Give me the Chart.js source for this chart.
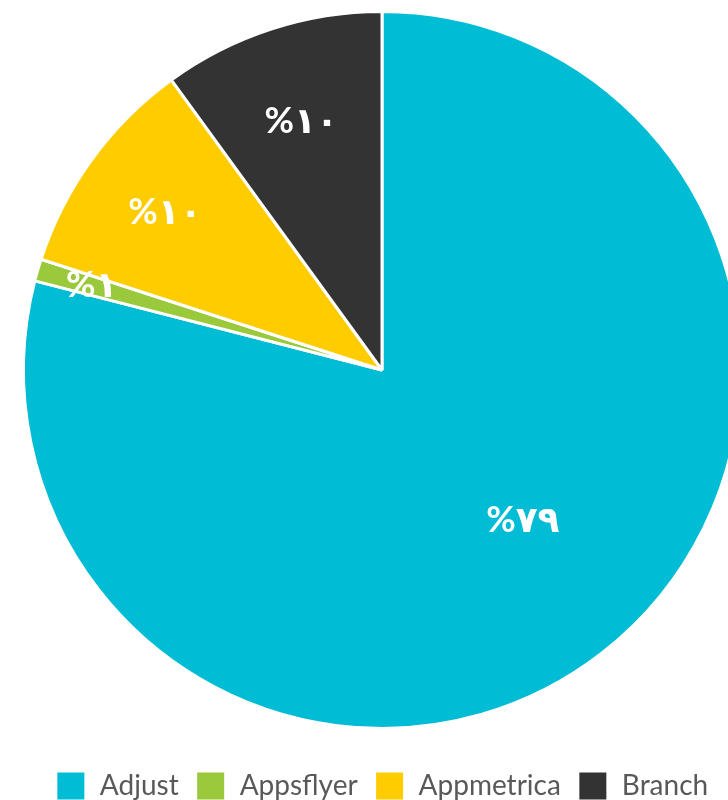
<!DOCTYPE html>
<html>
<head>
<meta charset="utf-8">
<script src="https://cdn.jsdelivr.net/npm/chart.js@4.4.1/dist/chart.umd.min.js"></script>
<style>
html,body{margin:0;padding:0;overflow:hidden;background:#ffffff;width:728px;height:800px}
canvas{display:block}
</style>
</head>
<body>
<canvas id="c" width="764" height="811"></canvas>
<script>
// ---- data ----
const categories = ['Adjust', 'Appsflyer', 'Appmetrica', 'Branch'];
const shares = [79, 1, 10, 10];

// ---- styles ----
const sliceColors = ['#00BCD4', '#9BC93C', '#FFCC00', '#333333'];
const labelPlacement = [
  {f: 0.574, turnDeg: -5.4},
  {f: 0.843, turnDeg: 0},
  {f: 0.748, turnDeg: 0},
  {f: 0.730, turnDeg: 0}
];

function toPersianDigits(n) {
  const d = ['۰','۱','۲','۳','۴','۵','۶','۷','۸','۹'];
  return String(n).replace(/[0-9]/g, c => d[+c]);
}

const sliceLabels = {
  id: 'sliceLabels',
  afterDatasetsDraw(chart) {
    const ctx = chart.ctx;
    const meta = chart.getDatasetMeta(0);
    const vals = chart.data.datasets[0].data;
    ctx.save();
    ctx.fillStyle = '#ffffff';
    ctx.font = 'bold 36px Lato, "DejaVu Sans", sans-serif';
    ctx.textAlign = 'center';
    ctx.textBaseline = 'middle';
    meta.data.forEach((arc, i) => {
      const p = arc.getProps(['x','y','startAngle','endAngle','outerRadius'], true);
      const pl = labelPlacement[i];
      const mid = (p.startAngle + p.endAngle) / 2 + pl.turnDeg * Math.PI / 180;
      const r = p.outerRadius * pl.f;
      const tx = p.x + Math.cos(mid) * r;
      const ty = p.y + Math.sin(mid) * r;
      // right-to-left percentage, shown with the sign on the left
      ctx.fillText('%' + toPersianDigits(vals[i]), tx, ty);
    });
    ctx.restore();
  }
};

new Chart(document.getElementById('c'), {
  type: 'pie',
  data: {
    labels: categories,
    datasets: [{
      data: shares,
      backgroundColor: sliceColors,
      borderColor: '#ffffff',
      borderWidth: 3
    }]
  },
  options: {
    responsive: false,
    animation: false,
    devicePixelRatio: 1,
    layout: {padding: {top: 10, left: 0, right: 0, bottom: 0}},
    plugins: {
      tooltip: {enabled: false},
      legend: {
        position: 'bottom',
        align: 'center',
        title: {display: true, text: '', padding: 0, font: {size: 20, lineHeight: 1.2}},
        labels: {
          boxWidth: 30,
          boxHeight: 30,
          padding: 17,
          color: '#595959',
          font: {family: 'Lato, "Open Sans", sans-serif', size: 28}
        }
      }
    }
  },
  plugins: [sliceLabels]
});
</script>
</body>
</html>
